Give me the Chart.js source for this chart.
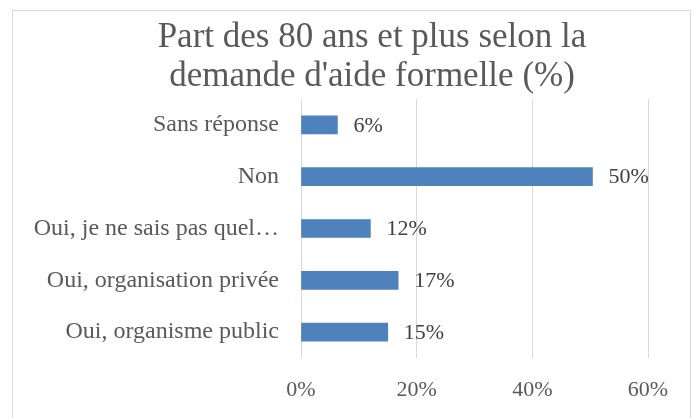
<!DOCTYPE html>
<html>
<head>
<meta charset="utf-8">
<title>Part des 80 ans et plus</title>
<script src="https://cdn.jsdelivr.net/npm/chart.js"></script>
<style>
  html, body { margin: 0; padding: 0; background: #fff; }
  #wrap { width: 696px; height: 418px; }
</style>
</head>
<body>
<div id="wrap"><canvas id="chart" width="696" height="418"></canvas></div>
<script>
// données
const categories = [
  'Sans réponse',
  'Non',
  'Oui, je ne sais pas quel…',
  'Oui, organisation privée',
  'Oui, organisme public'
];
const values = [6.3, 50.4, 12.0, 16.8, 15.0];
const tickValues = [0, 20, 40, 60];
const titleLines = ["Part des 80 ans et plus selon la", "demande d'aide formelle (%)"];

const serif = '"Liberation Serif", "Times New Roman", serif';

// cadre + titre + étiquettes de données
const decorPlugin = {
  id: 'decor',
  beforeDraw(chart) {
    const ctx = chart.ctx;
    ctx.save();
    ctx.fillStyle = '#fff';
    ctx.fillRect(0, 0, chart.width, chart.height);
    ctx.strokeStyle = '#d9d9d9';
    ctx.lineWidth = 1;
    ctx.strokeRect(12.5, 10.5, 678, 420);
    ctx.restore();
  },
  afterDraw(chart) {
    const ctx = chart.ctx;
    ctx.save();
    ctx.fillStyle = '#595959';
    ctx.font = '35px ' + serif;
    ctx.textAlign = 'center';
    ctx.textBaseline = 'alphabetic';
    ctx.fillText(titleLines[0], 372, 47);
    ctx.fillText(titleLines[1], 372, 86);

    const meta = chart.getDatasetMeta(0);
    ctx.fillStyle = '#404040';
    ctx.font = '22px ' + serif;
    ctx.textAlign = 'left';
    ctx.textBaseline = 'middle';
    meta.data.forEach((bar, i) => {
      ctx.fillText(Math.round(values[i]) + '%', bar.x + 16, bar.y + 1);
    });
    ctx.restore();
  }
};

new Chart(document.getElementById('chart'), {
  type: 'bar',
  data: {
    labels: categories,
    datasets: [{
      data: values,
      backgroundColor: '#4f81bd',
      barThickness: 18
    }]
  },
  options: {
    indexAxis: 'y',
    responsive: false,
    animation: false,
    layout: { padding: { top: 99, left: 0, right: 48, bottom: 0 } },
    plugins: {
      legend: { display: false },
      tooltip: { enabled: false },
      title: { display: false }
    },
    scales: {
      x: {
        min: 0,
        max: 60,
        afterBuildTicks(scale) {
          scale.ticks = tickValues.map(v => ({ value: v }));
        },
        grid: { color: '#d9d9d9', lineWidth: 1, drawTicks: false },
        border: { display: false },
        ticks: {
          color: '#595959',
          font: { family: serif, size: 22 },
          padding: 19,
          callback: v => v + '%'
        },
        afterFit(scale) { scale.height = 60; }
      },
      y: {
        grid: { display: false, drawTicks: false },
        border: { display: false },
        ticks: {
          color: '#595959',
          font: { family: serif, size: 24 },
          padding: 22
        },
        afterFit(scale) { scale.width = 301; }
      }
    }
  },
  plugins: [decorPlugin]
});
</script>
</body>
</html>
